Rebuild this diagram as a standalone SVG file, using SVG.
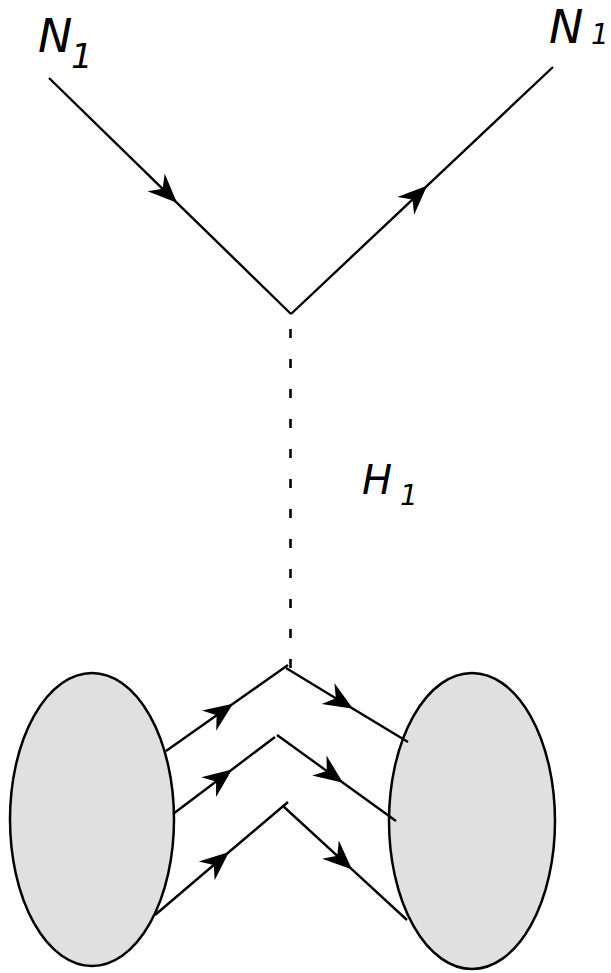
<svg xmlns="http://www.w3.org/2000/svg" width="611" height="973" viewBox="0 0 611 973">
<style>
.ln{fill:none;stroke:#000;stroke-width:2.4;stroke-linecap:butt}
.ar{marker-mid:url(#arr)}
.blob{fill:#e0e0e0;stroke:#000;stroke-width:2.5}
.lbl{font-family:"DejaVu Sans",sans-serif;font-style:italic;fill:#000}
</style>
<defs>
<marker id="arr" markerUnits="userSpaceOnUse" markerWidth="40" markerHeight="40" viewBox="-22 -11 26 22" refX="0" refY="0" orient="auto">
<path d="M0,0 L-19,-8 L-13,0 L-19,8 Z" fill="#000"/>
</marker>
</defs>
<rect width="611" height="973" fill="#fff"/>
<g id="blob-left"><ellipse class="blob" cx="92" cy="819.5" rx="82" ry="146.5"/></g>
<g id="blob-right"><ellipse class="blob" cx="472" cy="821" rx="83" ry="148"/></g>
<g id="connectors">
<path class="ln ar" d="M49,78 L177,202.8 L291,314"/>
<path class="ln ar" d="M291,314 L427,185.8 L553,67"/>
<line x1="290.5" y1="329" x2="290.5" y2="668" stroke="#000" stroke-width="2.6" stroke-dasharray="9 21"/>
<path class="ln ar" d="M166,751 L233,703.8 L288,665"/>
<path class="ln ar" d="M286,668 L353,708.7 L408,742"/>
<path class="ln ar" d="M173,814 L232,769.5 L275,737"/>
<path class="ln ar" d="M277,735 L343,782.7 L396,821"/>
<path class="ln ar" d="M155,915 L229,852 L288,802"/>
<path class="ln ar" d="M283,806 L352,869.4 L407,920"/>
</g>
<g id="label-N1-left"><text class="lbl" x="38" y="52" font-size="46">N</text><text class="lbl" x="71" y="68" font-size="34">1</text></g>
<g id="label-N1-right"><text class="lbl" x="549" y="43" font-size="46">N</text><text class="lbl" x="591" y="44" font-size="28">1</text></g>
<g id="label-H1"><text class="lbl" x="362" y="494" font-size="40">H</text><text class="lbl" x="400" y="505" font-size="28">1</text></g>
</svg>
